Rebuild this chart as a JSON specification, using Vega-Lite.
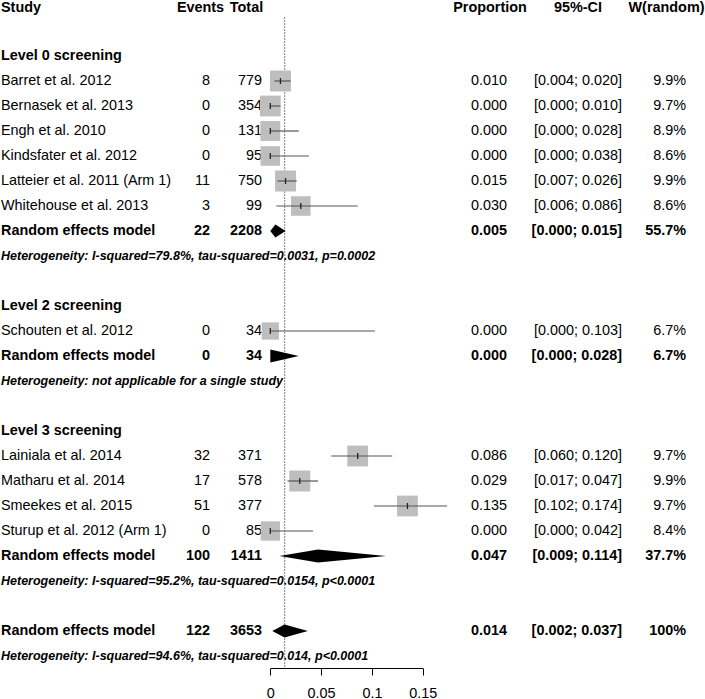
{
  "$schema": "https://vega.github.io/schema/vega-lite/v6.json",
  "width": 705,
  "height": 668,
  "autosize": {"type": "none"},
  "padding": {"left": 0, "top": 0, "right": 0, "bottom": 31},
  "background": "white",
  "config": {
    "view": {"stroke": null},
    "text": {"font": "Liberation Sans", "fontSize": 14.4, "color": "black", "baseline": "middle"}
  },
  "datasets": {
    "rows": [
      {"row": 0, "kind": "header", "label": "Study", "events": "Events", "total": "Total", "prop": "Proportion", "ci": "95%-CI", "w": "W(random)"},
      {"row": 2, "kind": "group", "label": "Level 0 screening"},
      {"row": 3, "kind": "study", "label": "Barret et al. 2012", "events": "8", "total": "779", "prop": "0.010", "ci": "[0.004; 0.020]", "w": "9.9%", "wt": 9.9, "lo": 0.004, "mid": 0.010, "up": 0.020},
      {"row": 4, "kind": "study", "label": "Bernasek et al. 2013", "events": "0", "total": "354", "prop": "0.000", "ci": "[0.000; 0.010]", "w": "9.7%", "wt": 9.7, "lo": 0.000, "mid": 0.000, "up": 0.010},
      {"row": 5, "kind": "study", "label": "Engh et al. 2010", "events": "0", "total": "131", "prop": "0.000", "ci": "[0.000; 0.028]", "w": "8.9%", "wt": 8.9, "lo": 0.000, "mid": 0.000, "up": 0.028},
      {"row": 6, "kind": "study", "label": "Kindsfater et al. 2012", "events": "0", "total": "95", "prop": "0.000", "ci": "[0.000; 0.038]", "w": "8.6%", "wt": 8.6, "lo": 0.000, "mid": 0.000, "up": 0.038},
      {"row": 7, "kind": "study", "label": "Latteier et al. 2011 (Arm 1)", "events": "11", "total": "750", "prop": "0.015", "ci": "[0.007; 0.026]", "w": "9.9%", "wt": 9.9, "lo": 0.007, "mid": 0.015, "up": 0.026},
      {"row": 8, "kind": "study", "label": "Whitehouse et al. 2013", "events": "3", "total": "99", "prop": "0.030", "ci": "[0.006; 0.086]", "w": "8.6%", "wt": 8.6, "lo": 0.006, "mid": 0.030, "up": 0.086},
      {"row": 9, "kind": "model", "label": "Random effects model", "events": "22", "total": "2208", "prop": "0.005", "ci": "[0.000; 0.015]", "w": "55.7%", "lo": 0.000, "mid": 0.005, "up": 0.015},
      {"row": 10, "kind": "het", "label": "Heterogeneity: I-squared=79.8%, tau-squared=0.0031, p=0.0002"},
      {"row": 12, "kind": "group", "label": "Level 2 screening"},
      {"row": 13, "kind": "study", "label": "Schouten et al. 2012", "events": "0", "total": "34", "prop": "0.000", "ci": "[0.000; 0.103]", "w": "6.7%", "wt": 6.7, "lo": 0.000, "mid": 0.000, "up": 0.103},
      {"row": 14, "kind": "model", "label": "Random effects model", "events": "0", "total": "34", "prop": "0.000", "ci": "[0.000; 0.028]", "w": "6.7%", "lo": 0.000, "mid": 0.000, "up": 0.028},
      {"row": 15, "kind": "het", "label": "Heterogeneity: not applicable for a single study"},
      {"row": 17, "kind": "group", "label": "Level 3 screening"},
      {"row": 18, "kind": "study", "label": "Lainiala et al. 2014", "events": "32", "total": "371", "prop": "0.086", "ci": "[0.060; 0.120]", "w": "9.7%", "wt": 9.7, "lo": 0.060, "mid": 0.086, "up": 0.120},
      {"row": 19, "kind": "study", "label": "Matharu et al. 2014", "events": "17", "total": "578", "prop": "0.029", "ci": "[0.017; 0.047]", "w": "9.9%", "wt": 9.9, "lo": 0.017, "mid": 0.029, "up": 0.047},
      {"row": 20, "kind": "study", "label": "Smeekes et al. 2015", "events": "51", "total": "377", "prop": "0.135", "ci": "[0.102; 0.174]", "w": "9.7%", "wt": 9.7, "lo": 0.102, "mid": 0.135, "up": 0.174},
      {"row": 21, "kind": "study", "label": "Sturup et al. 2012 (Arm 1)", "events": "0", "total": "85", "prop": "0.000", "ci": "[0.000; 0.042]", "w": "8.4%", "wt": 8.4, "lo": 0.000, "mid": 0.000, "up": 0.042},
      {"row": 22, "kind": "model", "label": "Random effects model", "events": "100", "total": "1411", "prop": "0.047", "ci": "[0.009; 0.114]", "w": "37.7%", "lo": 0.009, "mid": 0.047, "up": 0.114},
      {"row": 23, "kind": "het", "label": "Heterogeneity: I-squared=95.2%, tau-squared=0.0154, p<0.0001"},
      {"row": 25, "kind": "model", "label": "Random effects model", "events": "122", "total": "3653", "prop": "0.014", "ci": "[0.002; 0.037]", "w": "100%", "lo": 0.002, "mid": 0.014, "up": 0.037},
      {"row": 26, "kind": "het", "label": "Heterogeneity: I-squared=94.6%, tau-squared=0.014, p<0.0001"}
    ]
  },
  "data": {"name": "rows"},
  "resolve": {"scale": {"x": "independent"}, "axis": {"x": "independent"}},
  "layer": [
    {
      "layer": [
        {
          "transform": [{"filter": "isValid(datum.label)"}],
          "mark": {"type": "text", "align": "left",
                   "fontWeight": {"expr": "datum.kind == 'study' ? 'normal' : 'bold'"},
                   "fontStyle": {"expr": "datum.kind == 'het' ? 'italic' : 'normal'"},
                   "fontSize": {"expr": "datum.kind == 'het' ? 12.5 : 14.4"},
                   "dy": {"expr": "datum.kind == 'header' ? 1.5 : 0"}},
          "encoding": {
            "x": {"datum": 0, "type": "quantitative", "scale": {"domain": [0,1,2,3,4,5,6,7,8,9,10], "range": [1,200.5,210,246.5,262,490,507,578,622,666.5,686], "nice": false, "zero": false}, "axis": null},
            "y": {"field": "row", "type": "quantitative", "scale": {"domain": [-0.24, 26.48], "reverse": true, "nice": false, "zero": false}, "axis": null},
            "text": {"field": "label", "type": "nominal"}
          }
        },
        {
          "transform": [{"filter": "datum.kind == 'study' || datum.kind == 'model'"}],
          "mark": {"type": "text", "align": "right", "fontWeight": {"expr": "datum.kind == 'model' ? 'bold' : 'normal'"}},
          "encoding": {"x": {"datum": 2, "type": "quantitative"}, "y": {"field": "row", "type": "quantitative"}, "text": {"field": "events", "type": "nominal"}}
        },
        {
          "transform": [{"filter": "datum.kind == 'study' || datum.kind == 'model'"}],
          "mark": {"type": "text", "align": "right", "fontWeight": {"expr": "datum.kind == 'model' ? 'bold' : 'normal'"}},
          "encoding": {"x": {"datum": 4, "type": "quantitative"}, "y": {"field": "row", "type": "quantitative"}, "text": {"field": "total", "type": "nominal"}}
        },
        {
          "transform": [{"filter": "datum.kind == 'study' || datum.kind == 'model'"}],
          "mark": {"type": "text", "align": "right", "fontWeight": {"expr": "datum.kind == 'model' ? 'bold' : 'normal'"}},
          "encoding": {"x": {"datum": 6, "type": "quantitative"}, "y": {"field": "row", "type": "quantitative"}, "text": {"field": "prop", "type": "nominal"}}
        },
        {
          "transform": [{"filter": "datum.kind == 'study' || datum.kind == 'model'"}],
          "mark": {"type": "text", "align": "right", "fontWeight": {"expr": "datum.kind == 'model' ? 'bold' : 'normal'"}},
          "encoding": {"x": {"datum": 8, "type": "quantitative"}, "y": {"field": "row", "type": "quantitative"}, "text": {"field": "ci", "type": "nominal"}}
        },
        {
          "transform": [{"filter": "datum.kind == 'study' || datum.kind == 'model'"}],
          "mark": {"type": "text", "align": "right", "fontWeight": {"expr": "datum.kind == 'model' ? 'bold' : 'normal'"}},
          "encoding": {"x": {"datum": 10, "type": "quantitative"}, "y": {"field": "row", "type": "quantitative"}, "text": {"field": "w", "type": "nominal"}}
        },
        {
          "transform": [{"filter": "datum.kind == 'header'"}],
          "mark": {"type": "text", "align": "center", "fontWeight": "bold", "dy": 1.5},
          "encoding": {"x": {"datum": 1, "type": "quantitative"}, "y": {"field": "row", "type": "quantitative"}, "text": {"field": "events", "type": "nominal"}}
        },
        {
          "transform": [{"filter": "datum.kind == 'header'"}],
          "mark": {"type": "text", "align": "center", "fontWeight": "bold", "dy": 1.5},
          "encoding": {"x": {"datum": 3, "type": "quantitative"}, "y": {"field": "row", "type": "quantitative"}, "text": {"field": "total", "type": "nominal"}}
        },
        {
          "transform": [{"filter": "datum.kind == 'header'"}],
          "mark": {"type": "text", "align": "center", "fontWeight": "bold", "dy": 1.5},
          "encoding": {"x": {"datum": 5, "type": "quantitative"}, "y": {"field": "row", "type": "quantitative"}, "text": {"field": "prop", "type": "nominal"}}
        },
        {
          "transform": [{"filter": "datum.kind == 'header'"}],
          "mark": {"type": "text", "align": "center", "fontWeight": "bold", "dy": 1.5},
          "encoding": {"x": {"datum": 7, "type": "quantitative"}, "y": {"field": "row", "type": "quantitative"}, "text": {"field": "ci", "type": "nominal"}}
        },
        {
          "transform": [{"filter": "datum.kind == 'header'"}],
          "mark": {"type": "text", "align": "center", "fontWeight": "bold", "dy": 1.5},
          "encoding": {"x": {"datum": 9, "type": "quantitative"}, "y": {"field": "row", "type": "quantitative"}, "text": {"field": "w", "type": "nominal"}}
        }
      ]
    },
    {
      "layer": [
        {
          "mark": {"type": "rule", "color": "#9a9a9a", "strokeDash": [1.5, 1.5], "strokeWidth": 1},
          "encoding": {
            "x": {"datum": 0.014, "type": "quantitative", "scale": {"domain": [0, 0.15], "range": [270.3, 422.7], "nice": false, "zero": false},
                  "axis": {"values": [0, 0.05, 0.1, 0.15], "format": "~g", "title": null, "grid": false, "orient": "bottom", "tickSize": 7, "tickColor": "black", "domainColor": "black", "labelColor": "black", "labelFont": "Liberation Sans", "labelFontSize": 14.4, "labelPadding": 11, "labelFlush": false, "labelOverlap": false}},
            "y": {"datum": 0.44, "type": "quantitative"},
            "y2": {"datum": 26.48}
          }
        },
        {
          "transform": [{"filter": "datum.kind == 'study'"}],
          "mark": {"type": "square", "filled": true, "color": "#bebebe", "opacity": 1},
          "encoding": {
            "x": {"field": "mid", "type": "quantitative"},
            "y": {"field": "row", "type": "quantitative"},
            "size": {"field": "wt", "type": "quantitative", "scale": {"type": "linear", "domain": [0, 10], "range": [0, 445], "zero": true}, "legend": null}
          }
        },
        {
          "transform": [{"filter": "datum.kind == 'study'"}],
          "mark": {"type": "rule", "color": "#555555", "strokeWidth": 1.2},
          "encoding": {
            "x": {"field": "lo", "type": "quantitative"},
            "x2": {"field": "up"},
            "y": {"field": "row", "type": "quantitative"}
          }
        },
        {
          "transform": [{"filter": "datum.kind == 'study'"}],
          "mark": {"type": "tick", "orient": "vertical", "color": "#222222", "size": 6, "thickness": 1.3, "opacity": 1},
          "encoding": {
            "x": {"field": "mid", "type": "quantitative"},
            "y": {"field": "row", "type": "quantitative"}
          }
        },
        {
          "transform": [{"filter": "datum.kind == 'model'"}, {"fold": ["lo", "mid", "up"], "as": ["key", "val"]}],
          "mark": {"type": "area", "color": "black", "opacity": 1,
                   "yOffset": {"expr": "datum.key == 'mid' ? -6.5 : 0"},
                   "y2Offset": {"expr": "datum.key == 'mid' ? 6.5 : 0"}},
          "encoding": {
            "x": {"field": "val", "type": "quantitative"},
            "y": {"field": "row", "type": "quantitative"},
            "y2": {"field": "row"},
            "detail": {"field": "row", "type": "nominal"}
          }
        }
      ]
    }
  ]
}
